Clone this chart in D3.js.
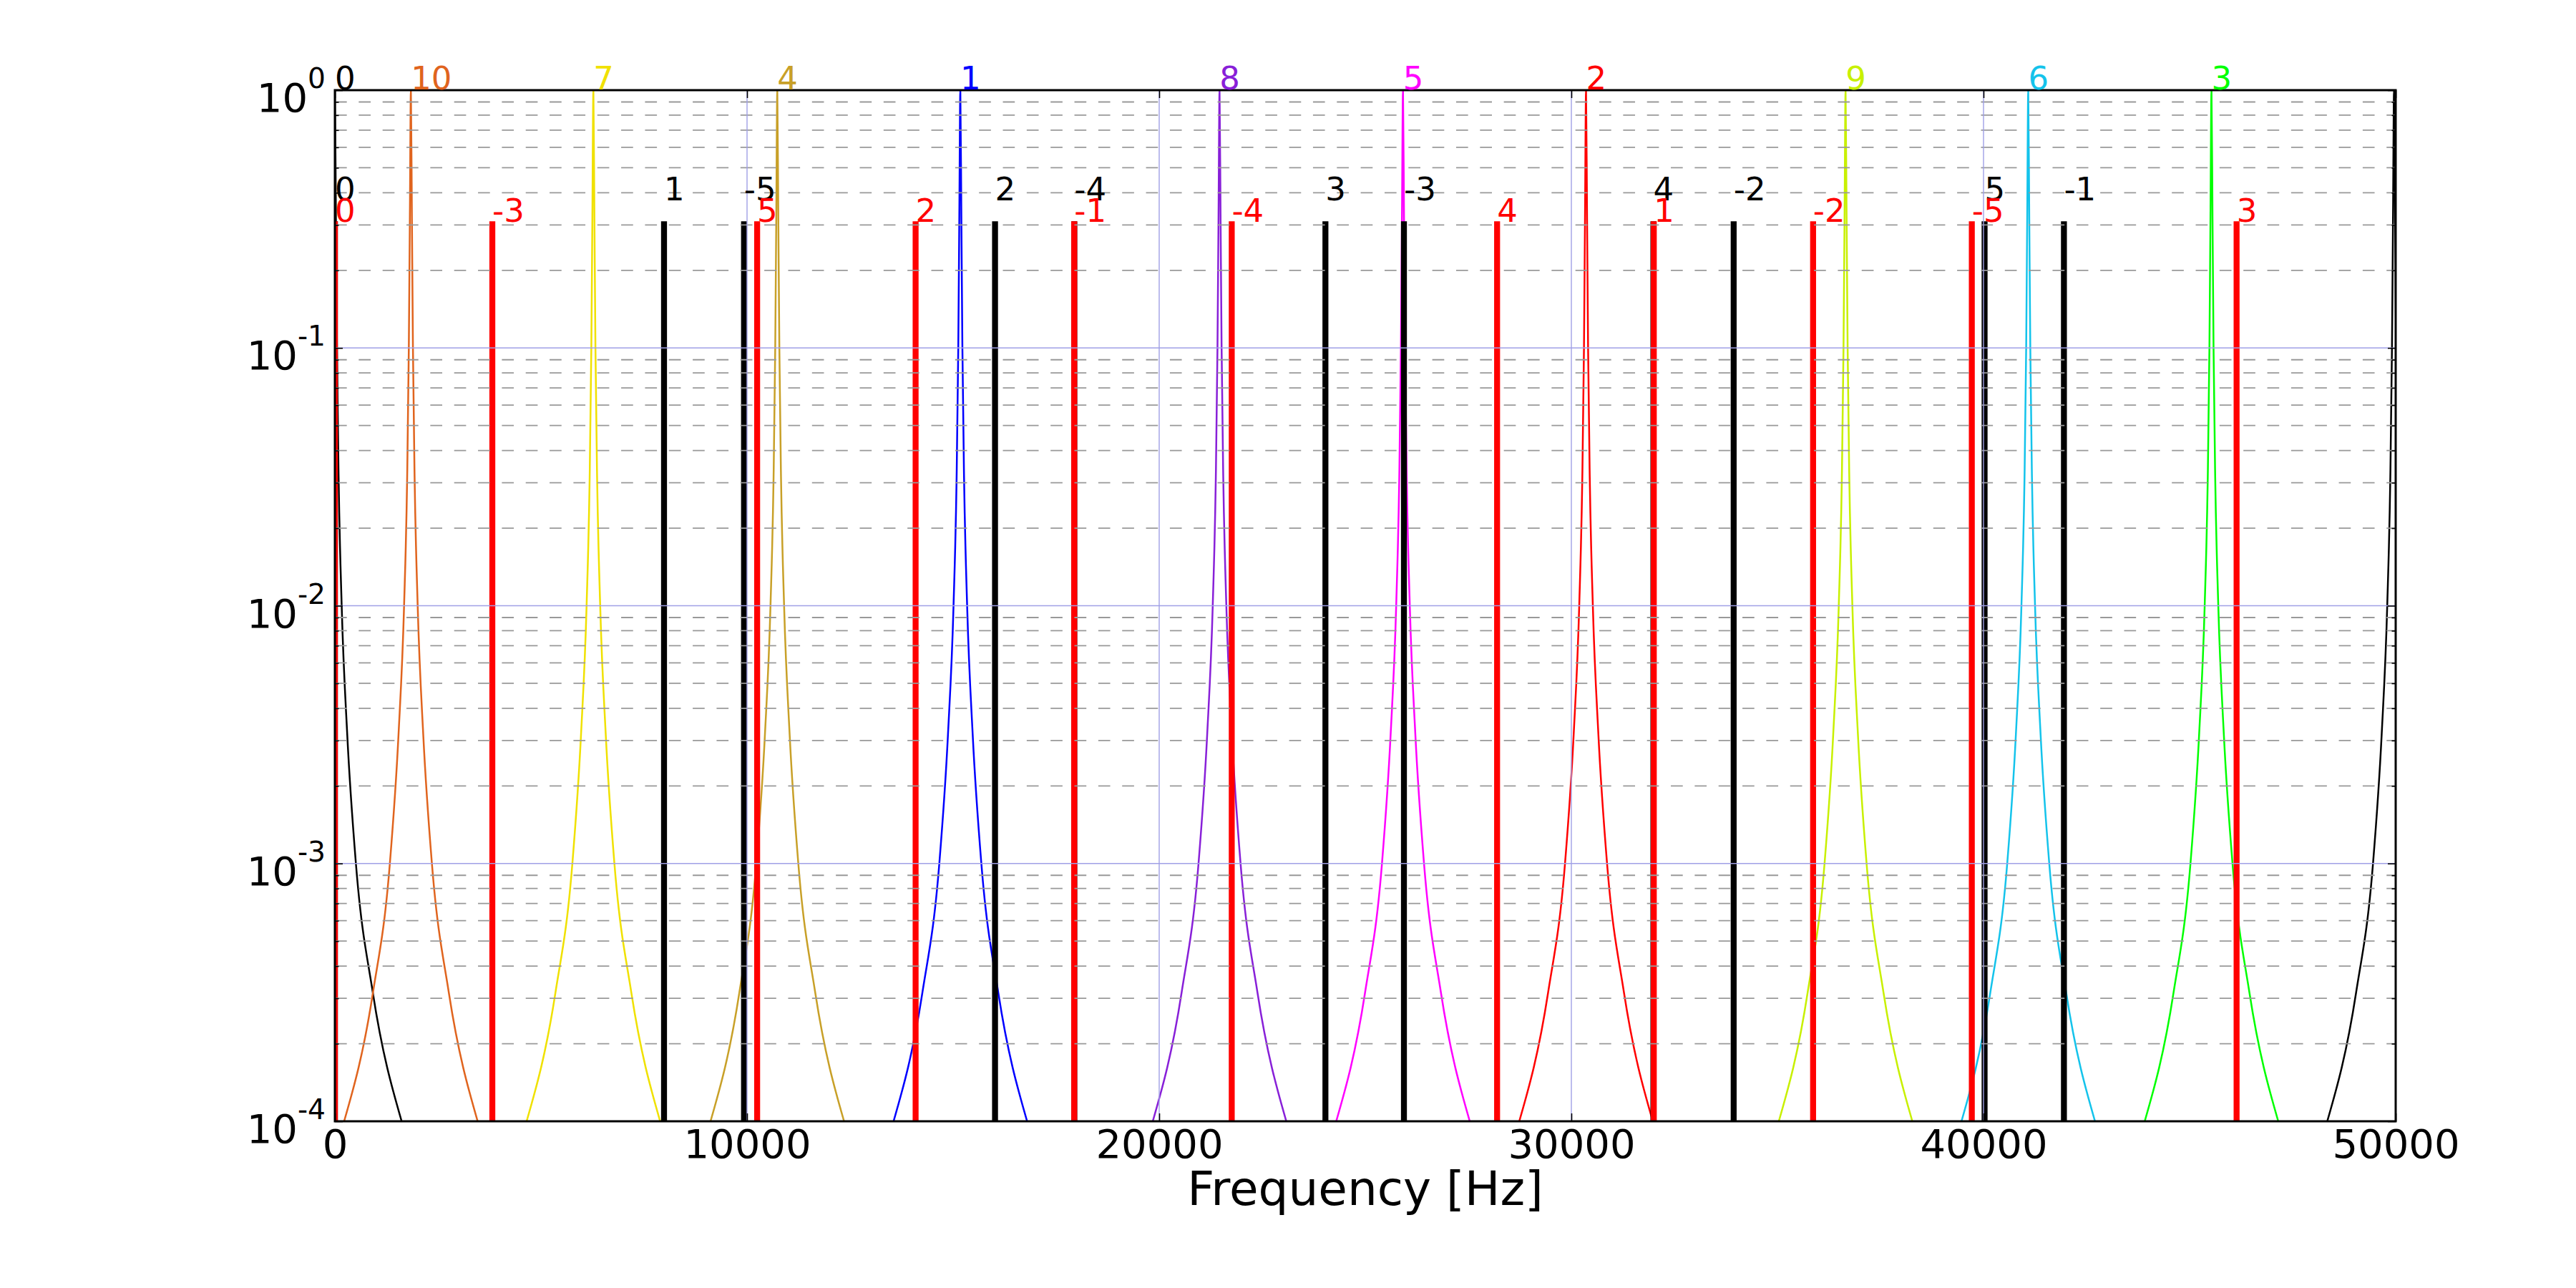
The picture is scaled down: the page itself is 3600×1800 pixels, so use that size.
<!DOCTYPE html>
<html>
<head>
<meta charset="utf-8">
<script src="https://cdn.jsdelivr.net/npm/d3@7"></script>
<style>
html,body{margin:0;padding:0;background:#fff;}
svg{display:block;font-family:"DejaVu Sans",sans-serif;}
</style>
</head>
<body>
<svg id="chart" width="3600" height="1800"></svg>
<script>
// ---------------- data ----------------
const peakLabels = ["0", "10", "7", "4", "1", "8", "5", "2", "9", "6", "3"];
const peakFreqs  = [0, 1844, 6272, 10734, 15175, 21464, 25915, 30356, 36653, 41085, 45531];
// the "0" peak re-appears (unlabelled) at the right edge
const wrappedPeakLabels = ["0"];
const wrappedPeakFreqs  = [49960];
// shared peak profile: distance from centre [Hz] -> level
const profileOffsets = [0, 25, 50, 90, 165, 300, 510, 920, 1620];
const profileLevels  = [1, 0.316, 0.1, 0.0316, 0.01, 0.00316, 0.001, 0.000316, 0.0001];

const blackLabels = ["0", "1", "-5", "2", "-4", "3", "-3", "4", "-2", "5", "-1"];
const blackFreqs  = [0, 7986, 9927, 16017, 17940, 24033, 25938, 31990, 33938, 40026, 41951];
const blackValues = [0.31, 0.31, 0.31, 0.31, 0.31, 0.31, 0.31, 0.31, 0.31, 0.31, 0.31];

const redLabels = ["0", "-3", "5", "2", "-1", "-4", "4", "1", "-2", "-5", "3"];
const redFreqs  = [0, 3820, 10245, 14090, 17938, 21760, 28198, 32000, 35865, 39716, 46140];
const redValues = [0.31, 0.31, 0.31, 0.31, 0.31, 0.31, 0.31, 0.31, 0.31, 0.31, 0.31];

const xTicks = [0, 10000, 20000, 30000, 40000, 50000];
const xTickLabels = ["0", "10000", "20000", "30000", "40000", "50000"];
const yTicks = [1e-4, 1e-3, 1e-2, 1e-1, 1];
const yTickExponents = ["-4", "-3", "-2", "-1", "0"];
const yMinorMultipliers = [2, 3, 4, 5, 6, 7, 8, 9];
const xLabelText = "Frequency [Hz]";

// ---------------- styles ----------------
const peakColor = {
  "0": "#000000", "1": "#0000ff", "2": "#ff0000", "3": "#00ff00", "4": "#c8a028",
  "5": "#ff00ff", "6": "#14c3eb", "7": "#f0e100", "8": "#8820d8", "9": "#c8f000", "10": "#e0641e"
};

// ---------------- layout ----------------
const L = 468, R = 3348, T = 126, B = 1567;
const svg = d3.select("#chart");
const x = d3.scaleLinear().domain([0, 50000]).range([L, R]);
const y = d3.scaleLog().domain([1e-4, 1]).range([B, T]);

svg.append("rect").attr("width", 3600).attr("height", 1800).attr("fill", "#fff");
svg.append("defs").append("clipPath").attr("id", "plotclip")
  .append("rect").attr("x", L).attr("y", T).attr("width", R - L).attr("height", B - T);

const plot = svg.append("g").attr("clip-path", "url(#plotclip)");

// ---------------- peak curves ----------------
function peakPoints(c) {
  const pts = [];
  for (let i = profileOffsets.length - 1; i >= 1; i--) pts.push({f: c - profileOffsets[i], v: profileLevels[i]});
  pts.push({f: c, v: profileLevels[0]});
  for (let i = 1; i < profileOffsets.length; i++) pts.push({f: c + profileOffsets[i], v: profileLevels[i]});
  return pts;
}
const line = d3.line().x(d => x(d.f)).y(d => y(d.v)).curve(d3.curveMonotoneX);

const allPeaks = peakFreqs.map((f, i) => ({f, lab: peakLabels[i]}))
  .concat(wrappedPeakFreqs.map((f, i) => ({f, lab: wrappedPeakLabels[i]})));
plot.selectAll("path.peak").data(allPeaks).join("path")
  .attr("class", "peak")
  .attr("d", d => line(peakPoints(d.f)))
  .attr("fill", "none")
  .attr("stroke", d => peakColor[d.lab])
  .attr("stroke-width", 2.5);

// ---------------- bars ----------------
const blackData = blackFreqs.map((f, i) => ({f, v: blackValues[i], lab: blackLabels[i]}));
const redData = redFreqs.map((f, i) => ({f, v: redValues[i], lab: redLabels[i]}));

plot.selectAll("line.bbar").data(blackData).join("line")
  .attr("class", "bbar")
  .attr("x1", d => x(d.f)).attr("x2", d => x(d.f))
  .attr("y1", y(1e-4)).attr("y2", d => y(d.v))
  .attr("stroke", "#000").attr("stroke-width", 8.3);

plot.selectAll("line.rbar").data(redData).join("line")
  .attr("class", "rbar")
  .attr("x1", d => x(d.f)).attr("x2", d => x(d.f))
  .attr("y1", y(1e-4)).attr("y2", d => y(d.v))
  .attr("stroke", "#ff0000").attr("stroke-width", 8.3);

// ---------------- grid (drawn over data) ----------------
const grid = svg.append("g");
const minorVals = [];
yTicks.slice(0, -1).forEach(t => yMinorMultipliers.forEach(m => minorVals.push(t * m)));
grid.selectAll("line.minor").data(minorVals).join("line")
  .attr("x1", L).attr("x2", R)
  .attr("y1", d => y(d)).attr("y2", d => y(d))
  .attr("stroke", "#999999").attr("stroke-width", 1.8)
  .attr("stroke-dasharray", "16.67,16.67");
grid.selectAll("line.hmajor").data(yTicks).join("line")
  .attr("x1", L).attr("x2", R)
  .attr("y1", d => y(d)).attr("y2", d => y(d))
  .attr("stroke", "#a0a0e6").attr("stroke-width", 1.4);
grid.selectAll("line.vmajor").data(xTicks).join("line")
  .attr("x1", d => x(d)).attr("x2", d => x(d))
  .attr("y1", T).attr("y2", B)
  .attr("stroke", "#a0a0e6").attr("stroke-width", 1.4);

// ---------------- axes ----------------
const axStyle = g => {
  g.select(".domain").remove();
  g.selectAll(".tick line").attr("stroke", "#000").attr("stroke-width", 1.6);
};
const fontTick = 56;

const xb = svg.append("g").attr("transform", `translate(0,${B})`)
  .call(d3.axisBottom(x).tickValues(xTicks).tickSize(-11).tickPadding(11)
        .tickFormat((d, i) => xTickLabels[i]));
axStyle(xb);
xb.selectAll("text").attr("font-size", fontTick).attr("font-family", "DejaVu Sans").attr("fill", "#000");

const xt = svg.append("g").attr("transform", `translate(0,${T})`)
  .call(d3.axisTop(x).tickValues(xTicks).tickSize(-11).tickFormat(""));
axStyle(xt);

const yl = svg.append("g").attr("transform", `translate(${L},0)`)
  .call(d3.axisLeft(y).tickValues(yTicks).tickSize(-11).tickPadding(13).tickFormat(""));
axStyle(yl);
const ylMinor = svg.append("g").attr("transform", `translate(${L},0)`)
  .call(d3.axisLeft(y).tickValues(minorVals).tickSize(-5.5).tickFormat(""));
axStyle(ylMinor);
const yr = svg.append("g").attr("transform", `translate(${R},0)`)
  .call(d3.axisRight(y).tickValues(yTicks).tickSize(-11).tickFormat(""));
axStyle(yr);
const yrMinor = svg.append("g").attr("transform", `translate(${R},0)`)
  .call(d3.axisRight(y).tickValues(minorVals).tickSize(-5.5).tickFormat(""));
axStyle(yrMinor);

// y tick labels with superscript exponents
const ylab = svg.append("g");
yTicks.forEach((t, i) => {
  const txt = ylab.append("text")
    .attr("x", L - 13).attr("y", y(t) + 30)
    .attr("text-anchor", "end")
    .attr("font-family", "DejaVu Sans")
    .attr("fill", "#000");
  txt.append("tspan").attr("font-size", fontTick).text("10");
  txt.append("tspan").attr("font-size", fontTick * 0.7).attr("dy", -33).text(yTickExponents[i]);
});

// spines
svg.append("rect").attr("x", L).attr("y", T).attr("width", R - L).attr("height", B - T)
  .attr("fill", "none").attr("stroke", "#000").attr("stroke-width", 3);

// x label
svg.append("text").attr("x", (L + R) / 2).attr("y", 1684)
  .attr("text-anchor", "middle").attr("font-size", 66)
  .attr("font-family", "DejaVu Sans").attr("fill", "#000")
  .text(xLabelText);

// ---------------- annotations ----------------
const fontLab = 45;
const ann = svg.append("g").attr("font-family", "DejaVu Sans").attr("font-size", fontLab);
ann.selectAll("text.pk").data(peakFreqs.map((f, i) => ({f, lab: peakLabels[i]}))).join("text")
  .attr("class", "pk")
  .attr("x", d => x(d.f)).attr("y", y(1) - 1)
  .attr("fill", d => peakColor[d.lab])
  .text(d => d.lab);
ann.selectAll("text.bl").data(blackData).join("text")
  .attr("class", "bl")
  .attr("x", d => x(d.f)).attr("y", d => y(d.v) - 29)
  .attr("fill", "#000")
  .text(d => d.lab);
ann.selectAll("text.rl").data(redData).join("text")
  .attr("class", "rl")
  .attr("x", d => x(d.f)).attr("y", d => y(d.v) + 1)
  .attr("fill", "#ff0000")
  .text(d => d.lab);
</script>
</body>
</html>
